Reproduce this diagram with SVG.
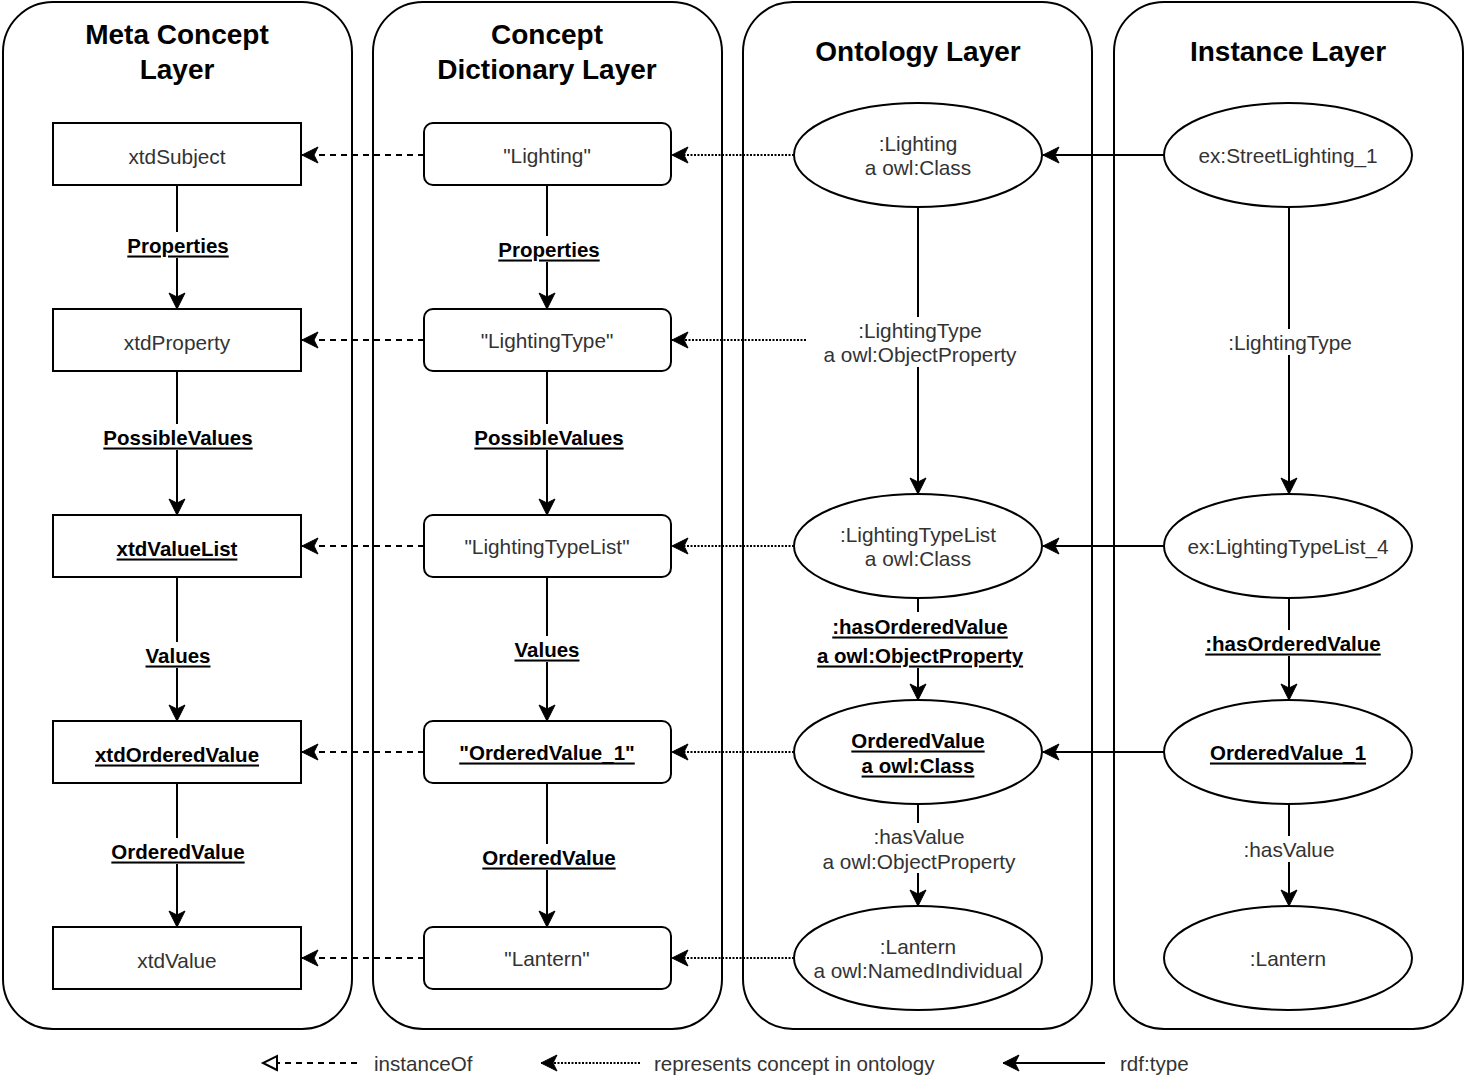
<svg xmlns="http://www.w3.org/2000/svg" width="1465" height="1078" viewBox="0 0 1465 1078">
  <style>
    .layer { fill: #ffffff; stroke: #000000; stroke-width: 2; }
    .title { font-family: "Liberation Sans", Arial, sans-serif; font-size: 28px; font-weight: bold; fill: #000000; text-anchor: middle; }
    .box { fill: #ffffff; stroke: #000000; stroke-width: 2; }
    .txt { font-family: "Liberation Sans", Arial, sans-serif; font-size: 20.8px; fill: #333333; text-anchor: middle; dominant-baseline: central; }
    .btxt { font-family: "Liberation Sans", Arial, sans-serif; font-size: 20.5px; font-weight: bold; fill: #000000; text-anchor: middle; dominant-baseline: central; text-decoration: underline; }
    .lbl { fill: #ffffff; stroke: none; }
    .solid { stroke: #000000; stroke-width: 2; fill: none; }
    .dashed { stroke: #000000; stroke-width: 2; fill: none; stroke-dasharray: 6 5; }
    .dotted { stroke: #000000; stroke-width: 2; fill: none; stroke-dasharray: 2 1.5; }
    .legend { font-family: "Liberation Sans", Arial, sans-serif; font-size: 20.6px; fill: #333333; dominant-baseline: central; }
  </style>
  <defs>
    <marker id="arrow" markerUnits="userSpaceOnUse" markerWidth="18" markerHeight="18" refX="16" refY="8" orient="auto" overflow="visible">
      <path d="M0,0 L16,8 L0,16 L4,8 Z" fill="#000000" stroke="#000000" stroke-width="1"/>
    </marker>
    <marker id="openTri" markerUnits="userSpaceOnUse" markerWidth="18" markerHeight="18" refX="14" refY="7" orient="auto" overflow="visible">
      <path d="M0,0 L14,7 L0,14 Z" fill="#ffffff" stroke="#000000" stroke-width="2"/>
    </marker>
  </defs>

  <!-- layer swimlanes -->
  <g id="layer-meta">
    <rect class="layer" x="3" y="2" width="349" height="1027" rx="50" ry="50"/>
    <text class="title" x="177" y="44">Meta Concept</text>
    <text class="title" x="177" y="79">Layer</text>
  </g>
  <g id="layer-dictionary">
    <rect class="layer" x="373" y="2" width="349" height="1027" rx="50" ry="50"/>
    <text class="title" x="547" y="44">Concept</text>
    <text class="title" x="547" y="79">Dictionary Layer</text>
  </g>
  <g id="layer-ontology">
    <rect class="layer" x="743" y="2" width="349" height="1027" rx="50" ry="50"/>
    <text class="title" x="918" y="61">Ontology Layer</text>
  </g>
  <g id="layer-instance">
    <rect class="layer" x="1114" y="2" width="349" height="1027" rx="50" ry="50"/>
    <text class="title" x="1288" y="61">Instance Layer</text>
  </g>

  <!-- connectors -->
  <g id="connectors">
    <!-- meta concept column -->
    <line class="solid" x1="177" y1="185" x2="177" y2="309" marker-end="url(#arrow)"/>
    <line class="solid" x1="177" y1="371" x2="177" y2="515" marker-end="url(#arrow)"/>
    <line class="solid" x1="177" y1="577" x2="177" y2="721" marker-end="url(#arrow)"/>
    <line class="solid" x1="177" y1="783" x2="177" y2="927" marker-end="url(#arrow)"/>
    <!-- dictionary column -->
    <line class="solid" x1="547" y1="185" x2="547" y2="309" marker-end="url(#arrow)"/>
    <line class="solid" x1="547" y1="371" x2="547" y2="515" marker-end="url(#arrow)"/>
    <line class="solid" x1="547" y1="577" x2="547" y2="721" marker-end="url(#arrow)"/>
    <line class="solid" x1="547" y1="783" x2="547" y2="927" marker-end="url(#arrow)"/>
    <!-- ontology column -->
    <line class="solid" x1="918" y1="207" x2="918" y2="494" marker-end="url(#arrow)"/>
    <line class="solid" x1="918" y1="598" x2="918" y2="700" marker-end="url(#arrow)"/>
    <line class="solid" x1="918" y1="804" x2="918" y2="906" marker-end="url(#arrow)"/>
    <!-- instance column -->
    <line class="solid" x1="1289" y1="207" x2="1289" y2="494" marker-end="url(#arrow)"/>
    <line class="solid" x1="1289" y1="598" x2="1289" y2="700" marker-end="url(#arrow)"/>
    <line class="solid" x1="1289" y1="804" x2="1289" y2="906" marker-end="url(#arrow)"/>

    <!-- rdf:type -->
    <line class="solid" x1="1164" y1="155" x2="1043" y2="155" marker-end="url(#arrow)"/>
    <line class="solid" x1="1164" y1="546" x2="1043" y2="546" marker-end="url(#arrow)"/>
    <line class="solid" x1="1164" y1="752" x2="1043" y2="752" marker-end="url(#arrow)"/>

    <!-- represents concept in ontology -->
    <line class="dotted" x1="794" y1="155" x2="672" y2="155" marker-end="url(#arrow)"/>
    <line class="dotted" x1="806" y1="340" x2="672" y2="340" marker-end="url(#arrow)"/>
    <line class="dotted" x1="794" y1="546" x2="672" y2="546" marker-end="url(#arrow)"/>
    <line class="dotted" x1="794" y1="752" x2="672" y2="752" marker-end="url(#arrow)"/>
    <line class="dotted" x1="794" y1="958" x2="672" y2="958" marker-end="url(#arrow)"/>

    <!-- instanceOf -->
    <line class="dashed" x1="424" y1="155" x2="302" y2="155" marker-end="url(#arrow)"/>
    <line class="dashed" x1="424" y1="340" x2="302" y2="340" marker-end="url(#arrow)"/>
    <line class="dashed" x1="424" y1="546" x2="302" y2="546" marker-end="url(#arrow)"/>
    <line class="dashed" x1="424" y1="752" x2="302" y2="752" marker-end="url(#arrow)"/>
    <line class="dashed" x1="424" y1="958" x2="302" y2="958" marker-end="url(#arrow)"/>

    <!-- edge labels -->
    <rect class="lbl" x="122" y="232" width="112" height="26"/>
    <text class="btxt" x="178" y="245">Properties</text>
    <rect class="lbl" x="100" y="424" width="158" height="26"/>
    <text class="btxt" x="178" y="437">PossibleValues</text>
    <rect class="lbl" x="142" y="642" width="72" height="26"/>
    <text class="btxt" x="178" y="655">Values</text>
    <rect class="lbl" x="106" y="838" width="146" height="26"/>
    <text class="btxt" x="178" y="851">OrderedValue</text>

    <rect class="lbl" x="493" y="236" width="112" height="26"/>
    <text class="btxt" x="549" y="249">Properties</text>
    <rect class="lbl" x="470" y="424" width="158" height="26"/>
    <text class="btxt" x="549" y="437">PossibleValues</text>
    <rect class="lbl" x="511" y="636" width="72" height="26"/>
    <text class="btxt" x="547" y="649">Values</text>
    <rect class="lbl" x="476" y="844" width="146" height="26"/>
    <text class="btxt" x="549" y="857">OrderedValue</text>

    <rect class="lbl" x="818" y="317" width="204" height="50"/>
    <text class="txt" x="920" y="330">:LightingType</text>
    <text class="txt" x="920" y="354">a owl:ObjectProperty</text>
    <rect class="lbl" x="812" y="612" width="216" height="56"/>
    <text class="btxt" x="920" y="626">:hasOrderedValue</text>
    <text class="btxt" x="920" y="655">a owl:ObjectProperty</text>
    <rect class="lbl" x="816" y="823" width="206" height="50"/>
    <text class="txt" x="919" y="836">:hasValue</text>
    <text class="txt" x="919" y="861">a owl:ObjectProperty</text>

    <rect class="lbl" x="1224" y="329" width="132" height="26"/>
    <text class="txt" x="1290" y="342">:LightingType</text>
    <rect class="lbl" x="1198" y="630" width="190" height="26"/>
    <text class="btxt" x="1293" y="643">:hasOrderedValue</text>
    <rect class="lbl" x="1238" y="836" width="102" height="26"/>
    <text class="txt" x="1289" y="849">:hasValue</text>
  </g>

  <!-- meta concept nodes -->
  <g id="xtdSubject">
    <rect class="box" x="53" y="123" width="248" height="62"/>
    <text class="txt" x="177" y="156">xtdSubject</text>
  </g>
  <g id="xtdProperty">
    <rect class="box" x="53" y="309" width="248" height="62"/>
    <text class="txt" x="177" y="342">xtdProperty</text>
  </g>
  <g id="xtdValueList">
    <rect class="box" x="53" y="515" width="248" height="62"/>
    <text class="btxt" x="177" y="548">xtdValueList</text>
  </g>
  <g id="xtdOrderedValue">
    <rect class="box" x="53" y="721" width="248" height="62"/>
    <text class="btxt" x="177" y="754">xtdOrderedValue</text>
  </g>
  <g id="xtdValue">
    <rect class="box" x="53" y="927" width="248" height="62"/>
    <text class="txt" x="177" y="960">xtdValue</text>
  </g>

  <!-- concept dictionary nodes -->
  <g id="dict-lighting">
    <rect class="box" x="424" y="123" width="247" height="62" rx="9" ry="9"/>
    <text class="txt" x="547" y="155">"Lighting"</text>
  </g>
  <g id="dict-lightingtype">
    <rect class="box" x="424" y="309" width="247" height="62" rx="9" ry="9"/>
    <text class="txt" x="547" y="340">"LightingType"</text>
  </g>
  <g id="dict-lightingtypelist">
    <rect class="box" x="424" y="515" width="247" height="62" rx="9" ry="9"/>
    <text class="txt" x="547" y="546">"LightingTypeList"</text>
  </g>
  <g id="dict-orderedvalue">
    <rect class="box" x="424" y="721" width="247" height="62" rx="9" ry="9"/>
    <text class="btxt" x="547" y="752">"OrderedValue_1"</text>
  </g>
  <g id="dict-lantern">
    <rect class="box" x="424" y="927" width="247" height="62" rx="9" ry="9"/>
    <text class="txt" x="547" y="958">"Lantern"</text>
  </g>

  <!-- ontology nodes -->
  <g id="onto-lighting">
    <ellipse class="box" cx="918" cy="155" rx="124" ry="52"/>
    <text class="txt" x="918" y="143">:Lighting</text>
    <text class="txt" x="918" y="167">a owl:Class</text>
  </g>
  <g id="onto-lightingtypelist">
    <ellipse class="box" cx="918" cy="546" rx="124" ry="52"/>
    <text class="txt" x="918" y="534">:LightingTypeList</text>
    <text class="txt" x="918" y="558">a owl:Class</text>
  </g>
  <g id="onto-orderedvalue">
    <ellipse class="box" cx="918" cy="752" rx="124" ry="52"/>
    <text class="btxt" x="918" y="740">OrderedValue</text>
    <text class="btxt" x="918" y="765">a owl:Class</text>
  </g>
  <g id="onto-lantern">
    <ellipse class="box" cx="918" cy="958" rx="124" ry="52"/>
    <text class="txt" x="918" y="946">:Lantern</text>
    <text class="txt" x="918" y="970">a owl:NamedIndividual</text>
  </g>

  <!-- instance nodes -->
  <g id="inst-streetlighting">
    <ellipse class="box" cx="1288" cy="155" rx="124" ry="52"/>
    <text class="txt" x="1288" y="155">ex:StreetLighting_1</text>
  </g>
  <g id="inst-lightingtypelist">
    <ellipse class="box" cx="1288" cy="546" rx="124" ry="52"/>
    <text class="txt" x="1288" y="546">ex:LightingTypeList_4</text>
  </g>
  <g id="inst-orderedvalue">
    <ellipse class="box" cx="1288" cy="752" rx="124" ry="52"/>
    <text class="btxt" x="1288" y="752">OrderedValue_1</text>
  </g>
  <g id="inst-lantern">
    <ellipse class="box" cx="1288" cy="958" rx="124" ry="52"/>
    <text class="txt" x="1288" y="958">:Lantern</text>
  </g>

  <!-- legend -->
  <g id="legend">
    <line class="dashed" x1="357" y1="1063" x2="263" y2="1063" marker-end="url(#openTri)"/>
    <text class="legend" x="374" y="1063">instanceOf</text>
    <line class="dotted" x1="640" y1="1063" x2="541" y2="1063" marker-end="url(#arrow)"/>
    <text class="legend" x="654" y="1063">represents concept in ontology</text>
    <line class="solid" x1="1105" y1="1063" x2="1003" y2="1063" marker-end="url(#arrow)"/>
    <text class="legend" x="1120" y="1063">rdf:type</text>
  </g>
</svg>
